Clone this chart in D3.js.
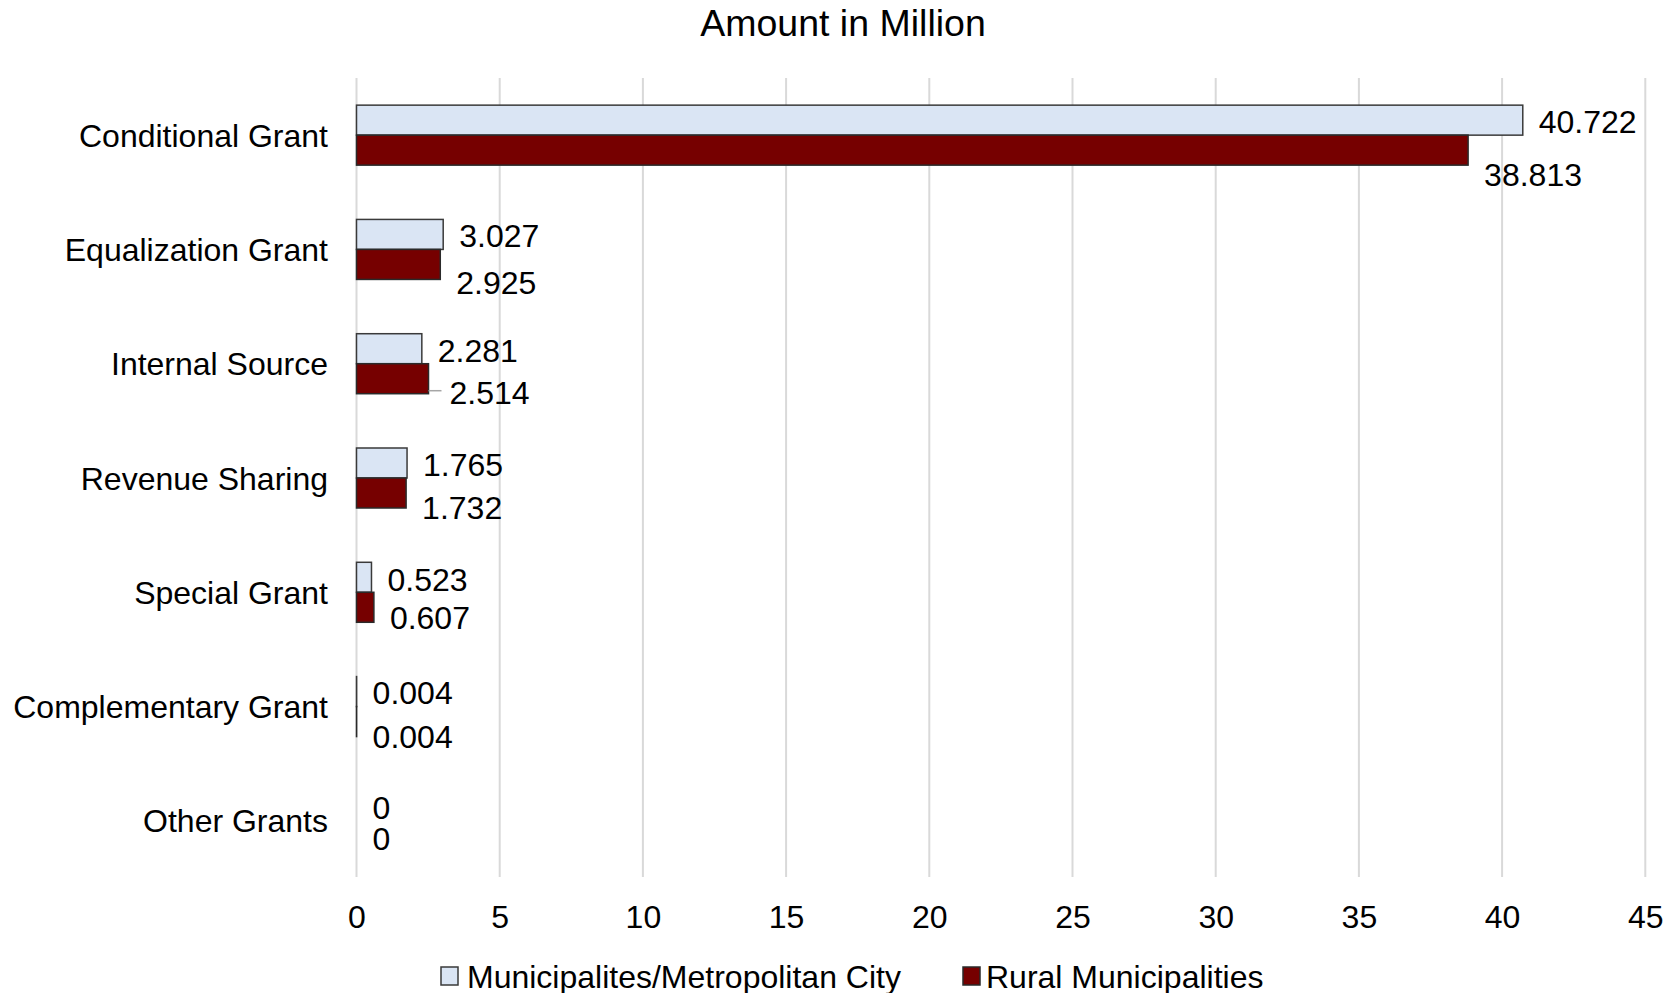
<!DOCTYPE html>
<html>
<head>
<meta charset="utf-8">
<script src="https://cdn.jsdelivr.net/npm/d3@7"></script>
<style>
  html, body { margin: 0; padding: 0; background: #fff; }
  svg { display: block; font-family: "Liberation Sans", Arial, sans-serif; }
</style>
</head>
<body>
<svg id="chart" width="1670" height="993"></svg>
<script>
// ---- data ----
const categories = ["Conditional Grant", "Equalization Grant", "Internal Source", "Revenue Sharing", "Special Grant", "Complementary Grant", "Other Grants"];
const seriesNames = ["Municipalites/Metropolitan City", "Rural Municipalities"];
const municipalValues = [40.722, 3.027, 2.281, 1.765, 0.523, 0.004, 0];
const ruralValues = [38.813, 2.925, 2.514, 1.732, 0.607, 0.004, 0];
const xTicks = [0, 5, 10, 15, 20, 25, 30, 35, 40, 45];
const titleText = "Amount in Million";

// ---- layout / style ----
const colors = ["#dae5f4", "#760000"];
const strokes = ["#3a3a3a", "#2a2a2a"];
// manual label nudges (px) copied from the reference layout
const labelDy = [[1, 1, 1.5, 1.5, 2, 1, 2], [24.5, 18.5, 14, 14, 10, 14.5, 3]];
const labelDx = [[0, 0, 0, 0, 0, 0, 0], [0, 0, 5, 0, 0, 0, 0]];

const svg = d3.select("#chart");
const plot = { left: 356.5, right: 1645.3, top: 78, bottom: 878 };

const x = d3.scaleLinear().domain([0, 45]).range([plot.left, plot.right]);
const y0 = d3.scaleBand().domain(categories).range([plot.top, plot.bottom])
  .paddingInner(0.475).paddingOuter(0.2375);
const y1 = d3.scaleBand().domain(seriesNames).range([0, y0.bandwidth()]);

const series = [municipalValues, ruralValues];

// title
svg.append("text")
  .attr("x", 843).attr("y", 36)
  .attr("text-anchor", "middle")
  .attr("font-size", 37.5)
  .attr("fill", "#000")
  .text(titleText);

// gridlines
svg.append("g").selectAll("line").data(xTicks).join("line")
  .attr("x1", d => x(d)).attr("x2", d => x(d))
  .attr("y1", plot.top).attr("y2", plot.bottom - 1)
  .attr("stroke", "#d9d9d9").attr("stroke-width", 2);

// x axis tick labels
const xAxis = d3.axisBottom(x).tickValues(xTicks).tickSize(0).tickPadding(0).tickFormat(d3.format("d"));
const gx = svg.append("g").attr("transform", `translate(0, ${plot.bottom + 27})`).call(xAxis);
gx.select(".domain").remove();
gx.selectAll("text").attr("font-size", 32).attr("fill", "#000")
  .attr("font-family", "'Liberation Sans', Arial, sans-serif")
  .attr("dy", "0.71em");

// y axis category labels
const yAxis = d3.axisLeft(y0).tickSize(0).tickPadding(28.5);
const gy = svg.append("g").attr("transform", `translate(${plot.left}, 0)`).call(yAxis);
gy.select(".domain").remove();
gy.selectAll("text").attr("font-size", 32).attr("fill", "#000")
  .attr("font-family", "'Liberation Sans', Arial, sans-serif")
  .attr("dy", "0.36em");

// bars
series.forEach((vals, si) => {
  const g = svg.append("g");
  g.selectAll("rect").data(vals).join("rect")
    .attr("x", x(0))
    .attr("y", (d, i) => y0(categories[i]) + y1(seriesNames[si]))
    .attr("width", d => Math.max(0, x(d) - x(0)))
    .attr("height", y1.bandwidth())
    .attr("fill", colors[si])
    .attr("stroke", strokes[si])
    .attr("stroke-width", 1.5);
});

// leader line for nudged label
series.forEach((vals, si) => {
  vals.forEach((d, i) => {
    if (labelDx[si][i] > 0) {
      const cy = y0(categories[i]) + y1(seriesNames[si]) + y1.bandwidth() / 2 + labelDy[si][i];
      svg.append("line")
        .attr("x1", x(d)).attr("x2", x(d) + 13)
        .attr("y1", cy - 2).attr("y2", cy - 2)
        .attr("stroke", "#a6a6a6").attr("stroke-width", 1.5);
    }
  });
});

// data labels
series.forEach((vals, si) => {
  svg.append("g").selectAll("text").data(vals).join("text")
    .attr("x", (d, i) => x(d) + 16 + labelDx[si][i])
    .attr("y", (d, i) => y0(categories[i]) + y1(seriesNames[si]) + y1.bandwidth() / 2 + labelDy[si][i])
    .attr("dy", "0.36em")
    .attr("font-size", 32)
    .attr("fill", "#000")
    .text(d => String(d));
});

// legend
const legendItems = [
  { name: seriesNames[0], bx: 441, tx: 467 },
  { name: seriesNames[1], bx: 963, tx: 986 }
];
legendItems.forEach((it, i) => {
  svg.append("rect")
    .attr("x", it.bx).attr("y", 967).attr("width", 17).attr("height", 18)
    .attr("fill", colors[i]).attr("stroke", strokes[i]).attr("stroke-width", 1.5);
  svg.append("text")
    .attr("x", it.tx).attr("y", 976).attr("dy", "0.36em")
    .attr("font-size", 32).attr("fill", "#000")
    .text(it.name);
});
</script>
</body>
</html>
